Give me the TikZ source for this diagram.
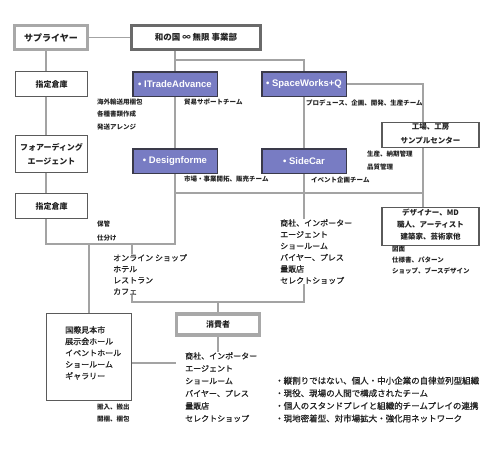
\documentclass[tikz,border=0pt]{standalone}
\usepackage{fontspec}
\setmainfont{Noto Sans CJK JP}
\newfontfamily\jpm{Noto Sans CJK JP}[FakeBold=0.8]
\newfontfamily\lat{Liberation Sans}
\definecolor{ln}{HTML}{A3A3A3}
\definecolor{dk}{HTML}{5A5A5A}
\definecolor{lg}{HTML}{A8A8A8}
\definecolor{dg}{HTML}{6A6A6A}
\definecolor{bl}{HTML}{787CC3}
\definecolor{bd}{HTML}{3A3A4A}
\definecolor{tx}{HTML}{222222}
\begin{document}
\begin{tikzpicture}[x=1pt,y=-1pt,
  conn/.style={draw=ln, line width=1.3pt},
  wbox/.style={draw=dk, line width=1.2pt, fill=white, inner sep=0, align=center, text=tx,
    font=\bfseries\fontsize{8}{14}\selectfont},
  gbox/.style={draw=lg, line width=3pt, fill=white, inner sep=0, text=tx,
    font=\bfseries\fontsize{9}{10}\selectfont},
  dbox/.style={draw=dg, line width=3pt, fill=white, inner sep=0, text=tx,
    font=\bfseries\fontsize{8.5}{10}\selectfont},
  bbox/.style={draw=bd, line width=1.5pt, fill=bl, inner sep=0, minimum width=84.5pt,
    minimum height=24.5pt, text=white, font=\lat\bfseries\fontsize{9.5}{10}\selectfont},
  btxt/.style={inner sep=0, text=tx, font=\bfseries\fontsize{7.5}{9}\selectfont},
  sm/.style={inner sep=0, anchor=north west, align=left, text=tx,
    font=\bfseries\fontsize{6.5}{12.5}\selectfont},
  md/.style={inner sep=0, anchor=north west, align=left, text=tx,
    font=\jpm\fontsize{8}{11.5}\selectfont},
]
\useasboundingbox (0,0) rectangle (500,450);

% boxes
\node[gbox, minimum width=73pt, minimum height=24pt] (sup) at (51,37.5) {サプライヤー};
\node[dbox, minimum width=129pt, minimum height=24pt] (wanokuni) at (196,37.5) {和の国 ∞ 無限 事業部};
\node[wbox, minimum width=72pt, minimum height=25pt] (shitei1) at (51.5,84) {指定倉庫};
\node[wbox, minimum width=72pt, minimum height=37pt] (forward) at (51.5,154) {フォアーディング\\エージェント};
\node[wbox, minimum width=72pt, minimum height=25pt] (shitei2) at (51.5,206) {指定倉庫};
\node[bbox] (itrade) at (175,84) {• ITradeAdvance};
\node[bbox] (design) at (175,161) {• Designforme};
\node[bbox] (space) at (304,84) {• SpaceWorks+Q};
\node[bbox] (sidecar) at (304,161) {• SideCar};
\node[wbox, minimum width=97pt, minimum height=25pt] (factory) at (430.5,135) {};
\node[btxt] (f1) at (430.5,126.5) {工場、工房};
\node[btxt] (f2) at (430.5,141) {サンプルセンター};
\node[wbox, minimum width=97pt, minimum height=38pt] (designer) at (430.5,226.5) {};
\node[btxt] (d1) at (430.5,212.5) {デザイナー、MD};
\node[btxt] (d2) at (430.5,224.5) {職人、アーティスト};
\node[btxt] (d3) at (430.5,237) {建築家、芸術家他};
\node[wbox, minimum width=85pt, minimum height=87pt] (kokusai) at (89,357) {};
\node[gbox, draw=lg, line width=3.5pt, minimum width=83pt, minimum height=21pt, font=\bfseries\fontsize{8}{10}\selectfont] (shohi) at (218,324.5) {消費者};

% text groups
\node[md] (kklist) at (65,326) {国際見本市\\展示会ホール\\イベントホール\\ショールーム\\ギャラリー};
\node[sm] (t1) at (97,98.5) {海外輸送用梱包\\各種書類作成\\発送アレンジ};
\node[sm] (t2) at (184,98.5) {貿易サポートチーム};
\node[sm] (t3) at (306,99.5) {プロデュース、企画、開発、生産チーム};
\node[sm, font=\bfseries\fontsize{6.5}{13}\selectfont] (t4) at (367,150.5) {生産、納期管理\\品質管理};
\node[sm] (t5) at (184,175.5) {市場・事業開拓、販売チーム};
\node[sm] (t6) at (311,176.5) {イベント企画チーム};
\node[sm, font=\bfseries\fontsize{6.5}{14}\selectfont] (t7) at (97,220.5) {保管\\仕分け};
\node[sm, font=\bfseries\fontsize{6.5}{11}\selectfont] (t8) at (392,246) {図面\\仕様書、パターン\\ショップ、ブースデザイン};
\node[sm, font=\bfseries\fontsize{6.5}{12}\selectfont] (t9) at (97,403.5) {搬入、搬出\\開梱、梱包};
\node[md, font=\jpm\fontsize{8}{11.2}\selectfont] (online) at (113,254) {オンライン ショップ\\ホテル\\レストラン\\カフェ};
\node[md] (midlist) at (280,219) {商社、インポーター\\エージェント\\ショールーム\\バイヤー、プレス\\量販店\\セレクトショップ};
\node[md, font=\jpm\fontsize{8}{12.5}\selectfont] (clist) at (185,352) {商社、インポーター\\エージェント\\ショールーム\\バイヤー、プレス\\量販店\\セレクトショップ};
\node[md, font=\jpm\fontsize{8.5}{12.6}\selectfont] (bul) at (275,376.5) {・縦割りではない、個人・中小企業の自律並列型組織\\・現役、現場の人間で構成されたチーム\\・個人のスタンドプレイと組織的チームプレイの連携\\・現地密着型、対市場拡大・強化用ネットワーク};

% helper coordinates
\coordinate (xa) at (46,0);
\coordinate (xf) at (423,0);
\coordinate (xo) at (132,0);
\coordinate (jA) at (175,244);
\coordinate (jB) at (175,60);
\coordinate (jC) at (175,193);
\coordinate (jD) at (304,302);
\coordinate (kk) at (176,363);

% connectors
\draw[conn] (sup.east) -- (wanokuni.west);
\draw[conn] (sup.south -| xa) -- (shitei1.north -| xa);
\draw[conn] (shitei1.south -| xa) -- (forward.north -| xa);
\draw[conn] (forward.south -| xa) -- (shitei2.north -| xa);
\draw[conn] (shitei2.south -| xa) |- (jA) -- (design.south);
\draw[conn] (wanokuni.south -| itrade) -- (itrade.north);
\draw[conn] (jB) -| (space.north);
\draw[conn] (itrade.south) -- (design.north);
\draw[conn] (space.south) -- (sidecar.north);
\draw[conn] (space.east) -| (factory.north -| xf);
\draw[conn] (factory.south -| xf) -- (designer.north -| xf);
\draw[conn] (jC) -- (jC -| xf);
\draw[conn] (sidecar.south) -- (midlist.north -| sidecar);
\draw[conn] (midlist.south -| sidecar) |- (jD -| xo) -- (online.south -| xo);
\draw[conn] (jA -| xo) -- (online.north -| xo);
\draw[conn] (jD -| shohi) -- (shohi.north);
\draw[conn] (shohi.south) -- (clist.north -| shohi);
\draw[conn] (jA -| kokusai) -- (kokusai.north);
\draw[conn] (kokusai.east |- kk) -- (kk);
\end{tikzpicture}
\end{document}
